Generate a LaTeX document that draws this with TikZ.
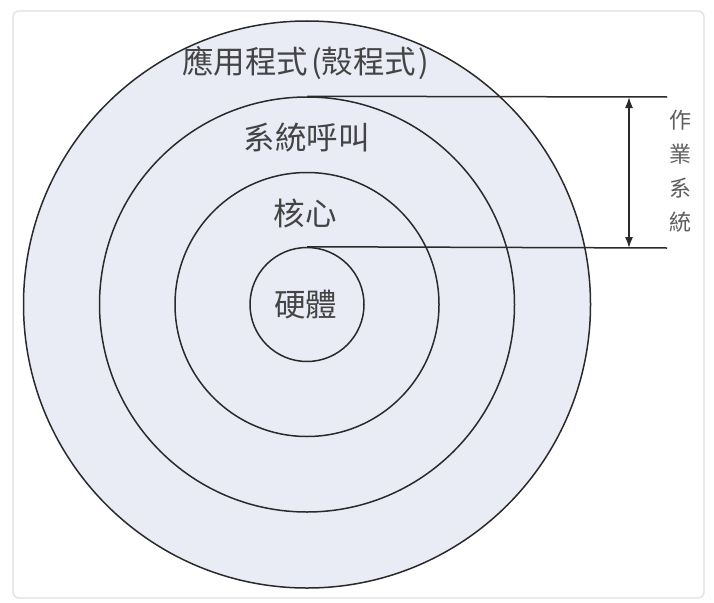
\documentclass[tikz,border=0pt]{standalone}
\usepackage{fontspec}
\newfontfamily\cjk{Noto Sans CJK TC}
\usetikzlibrary{arrows.meta}
\definecolor{ringfill}{HTML}{E9ECF5}
\definecolor{ringline}{HTML}{2A2A2A}
\definecolor{labeltext}{HTML}{444444}
\definecolor{sidetext}{HTML}{5E5E5E}
\definecolor{framegray}{HTML}{DDE1E6}
\begin{document}
\begin{tikzpicture}[x=1pt,y=-1pt,
  ring/.style={circle,draw=ringline,fill=ringfill,line width=1.5pt,inner sep=0pt,minimum size=#1},
  lbl/.style={text=labeltext,inner sep=0pt,font=\cjk\fontsize{31.5}{34}\selectfont},
  guide/.style={draw=ringline,line width=1.5pt},
  dim/.style={draw=ringline,line width=1.5pt,{Latex[length=11pt,width=8pt]}-{Latex[length=11pt,width=8pt]}}]
  \useasboundingbox (0,0) rectangle (714,602);
  \fill[white] (0,0) rectangle (714,602);
  \draw[framegray,line width=1.3pt,rounded corners=6pt] (13,11) rectangle (704,598);

  % concentric layers
  \coordinate (c) at (307,304.5);
  \node[ring=567pt] (app) at (c) {};
  \node[ring=415pt] (sys) at (c) {};
  \node[ring=264pt] (ker) at (c) {};
  \node[ring=114pt] (hw)  at (c) {};

  % layer labels
  \node[lbl] (tapp) at (305.5,63) {應用程式\hspace{3pt}(殼程式\hspace{2pt})};
  \node[lbl] (tsys) at (306.5,138) {系統呼叫};
  \node[lbl] (tker) at (305,213) {核心};
  \node[lbl] (thw)  at (305.5,305) {硬體};

  % extent of the operating system
  \coordinate (topend) at (667,97);
  \coordinate (botend) at (667,248);
  \draw[guide] (sys.north) -- (topend);
  \draw[guide] (hw.north) -- (botend);
  \coordinate (atop) at (629,97);
  \coordinate (abot) at (629,248);
  \draw[dim] (atop) -- (abot);
  \node[text=sidetext,inner sep=0pt,align=center,font=\cjk\fontsize{22}{34}\selectfont] (tos) at (680,171) {作\\業\\系\\統};
\end{tikzpicture}
\end{document}
